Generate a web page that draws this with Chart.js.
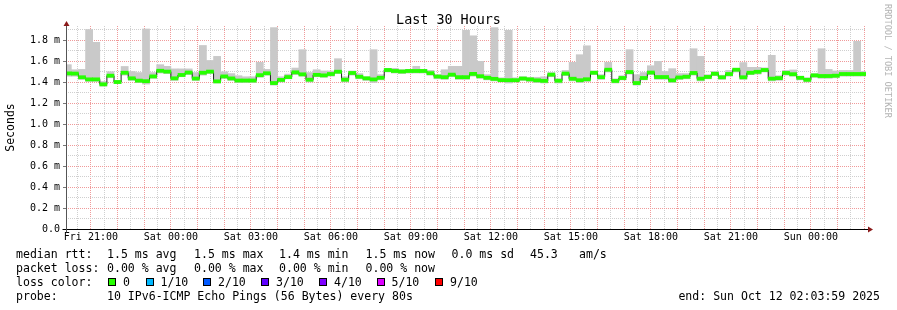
<!DOCTYPE html>
<html>
<head>
<meta charset="utf-8">
<script src="https://cdn.jsdelivr.net/npm/chart.js@4.4.1/dist/chart.umd.min.js"></script>
<style>
  html, body { margin: 0; padding: 0; background: #fff; }
  #wrap { position: relative; width: 897px; height: 310px; overflow: hidden;
          font-family: "DejaVu Sans Mono", monospace; color: #000; }
  #chart { position: absolute; left: 0; top: 0; }
  .title { position: absolute; left: 0; top: 11px; width: 897px; text-align: center;
           font-size: 13.4px; line-height: 17px; }
  .wm { position: absolute; left: 883px; top: 4px; writing-mode: vertical-rl;
        font-size: 8.6px; line-height: 10px; color: #b4b4b4; white-space: pre; }
  .t { position: absolute; white-space: pre; font-size: 11.55px; line-height: 14px; }
  .box { position: absolute; width: 6px; height: 6px; border: 1px solid #000; }
</style>
</head>
<body>
<div id="wrap">
  <canvas id="chart" width="897" height="310"></canvas>
  <div class="title">Last 30 Hours</div>
  <div class="wm">RRDTOOL / TOBI OETIKER</div>

  <div class="t" style="left:16px;top:247px">median rtt:</div>
  <div class="t" style="left:107px;top:247px">1.5 ms avg</div>
  <div class="t" style="left:194px;top:247px">1.5 ms max</div>
  <div class="t" style="left:279px;top:247px">1.4 ms min</div>
  <div class="t" style="left:365.5px;top:247px">1.5 ms now</div>
  <div class="t" style="left:451.5px;top:247px">0.0 ms sd</div>
  <div class="t" style="left:530px;top:247px">45.3</div>
  <div class="t" style="left:579px;top:247px">am/s</div>

  <div class="t" style="left:16px;top:261px">packet loss:</div>
  <div class="t" style="left:107px;top:261px">0.00 % avg</div>
  <div class="t" style="left:194px;top:261px">0.00 % max</div>
  <div class="t" style="left:279px;top:261px">0.00 % min</div>
  <div class="t" style="left:365.5px;top:261px">0.00 % now</div>

  <div class="t" style="left:16px;top:275px">loss color:</div>
  <div id="lossKey"></div>

  <div class="t" style="left:16px;top:289px">probe:</div>
  <div class="t" style="left:107px;top:289px">10 IPv6-ICMP Echo Pings (56 Bytes) every 80s</div>
  <div class="t" style="right:17px;top:289px">end: Sun Oct 12 02:03:59 2025</div>
</div>

<script>
// DATA: one value per 16-minute step, starting Fri 20:00 (ms)
const median = [
  1.482, 1.48, 1.445, 1.425, 1.425, 1.378, 1.46, 1.40, 1.488, 1.435,
  1.413, 1.408, 1.453, 1.507, 1.499, 1.435, 1.467, 1.49, 1.433, 1.488,
  1.499, 1.406, 1.453, 1.434, 1.414, 1.414, 1.414, 1.465, 1.483, 1.39,
  1.42, 1.447, 1.492, 1.473, 1.422, 1.468, 1.463, 1.476, 1.498, 1.422,
  1.486, 1.45, 1.435, 1.425, 1.44, 1.514, 1.505, 1.5, 1.505, 1.505,
  1.505, 1.484, 1.452, 1.446, 1.47, 1.446, 1.446, 1.477, 1.455, 1.44,
  1.43, 1.418, 1.417, 1.417, 1.433, 1.425, 1.416, 1.411, 1.47, 1.412,
  1.48, 1.431, 1.417, 1.426, 1.488, 1.446, 1.517, 1.41, 1.438, 1.495,
  1.39, 1.438, 1.49, 1.447, 1.447, 1.416, 1.443, 1.45, 1.486, 1.432,
  1.448, 1.478, 1.445, 1.476, 1.517, 1.445, 1.488, 1.497, 1.514, 1.432,
  1.437, 1.486, 1.474, 1.44, 1.421, 1.463, 1.457, 1.457, 1.46, 1.476,
  1.476, 1.476, 1.476
];
const smokeHigh = [
  1.565, 1.517, 1.52, 1.90, 1.778, 1.405, 1.498, 1.415, 1.548, 1.50,
  1.49, 1.905, 1.49, 1.565, 1.549, 1.525, 1.525, 1.525, 1.49, 1.748,
  1.605, 1.644, 1.497, 1.48, 1.46, 1.45, 1.45, 1.587, 1.52, 1.918,
  1.45, 1.475, 1.533, 1.708, 1.49, 1.517, 1.505, 1.505, 1.622, 1.45,
  1.505, 1.48, 1.45, 1.708, 1.47, 1.53, 1.53, 1.517, 1.52, 1.549,
  1.52, 1.511, 1.47, 1.517, 1.549, 1.549, 1.892, 1.84, 1.597, 1.47,
  1.918, 1.44, 1.892, 1.44, 1.45, 1.445, 1.445, 1.45, 1.49, 1.43,
  1.51, 1.587, 1.66, 1.745, 1.505, 1.47, 1.587, 1.43, 1.46, 1.708,
  1.47, 1.49, 1.555, 1.597, 1.50, 1.527, 1.48, 1.48, 1.717, 1.644,
  1.47, 1.50, 1.465, 1.51, 1.53, 1.585, 1.54, 1.54, 1.535, 1.654,
  1.46, 1.51, 1.515, 1.455, 1.44, 1.48, 1.717, 1.52, 1.505, 1.51,
  1.51, 1.787, 1.50
];
const smokeLow = [
  1.455, 1.455, 1.425, 1.405, 1.405, 1.36, 1.44, 1.385, 1.465, 1.415,
  1.395, 1.38, 1.435, 1.485, 1.48, 1.415, 1.45, 1.47, 1.415, 1.465,
  1.48, 1.39, 1.435, 1.415, 1.395, 1.395, 1.395, 1.445, 1.465, 1.37,
  1.40, 1.43, 1.47, 1.455, 1.40, 1.45, 1.445, 1.455, 1.48, 1.40,
  1.465, 1.43, 1.415, 1.395, 1.42, 1.495, 1.485, 1.48, 1.485, 1.485,
  1.485, 1.465, 1.43, 1.425, 1.45, 1.425, 1.425, 1.455, 1.435, 1.42,
  1.41, 1.40, 1.39, 1.40, 1.415, 1.405, 1.395, 1.39, 1.45, 1.39,
  1.46, 1.41, 1.395, 1.405, 1.47, 1.425, 1.495, 1.39, 1.42, 1.475,
  1.37, 1.42, 1.47, 1.425, 1.425, 1.395, 1.425, 1.43, 1.465, 1.41,
  1.43, 1.46, 1.425, 1.455, 1.495, 1.425, 1.47, 1.475, 1.495, 1.41,
  1.415, 1.465, 1.455, 1.42, 1.40, 1.445, 1.435, 1.435, 1.44, 1.455,
  1.455, 1.455, 1.455
];

// x axis: hours counted from Fri 00:00
const xTickHours = [21, 24, 27, 30, 33, 36, 39, 42, 45, 48];
const xTickLabels = ['Fri 21:00', 'Sat 00:00', 'Sat 03:00', 'Sat 06:00', 'Sat 09:00',
                     'Sat 12:00', 'Sat 15:00', 'Sat 18:00', 'Sat 21:00', 'Sun 00:00'];
const yTickValues = [0, 0.2, 0.4, 0.6, 0.8, 1.0, 1.2, 1.4, 1.6, 1.8];
const yTickLabels = ['0.0', '0.2 m', '0.4 m', '0.6 m', '0.8 m', '1.0 m', '1.2 m', '1.4 m', '1.6 m', '1.8 m'];

const lossLabels = ['0', '1/10', '2/10', '3/10', '4/10', '5/10', '9/10'];
const lossColors = ['#26ff00', '#00b8ff', '#0059ff', '#5e00ff', '#7e00ff', '#dd00ff', '#ff0000'];

const startHour = 20;         // first step begins Fri 20:00
const stepHours = 16 / 60;
const endHour = 50 + 4 / 60;  // Sun 02:04
const BAND = 0.015;           // half height of the loss-colour band
const RED = '#f09a9a';
const GREY = '#cfcfcf';
const FONT = 'DejaVu Sans Mono';

// loss colour key
const boxLeft = [108, 145.5, 203, 261, 319, 376.5, 435];
const textLeft = [123, 160.5, 218, 276, 334, 391.5, 450];
const key = document.getElementById('lossKey');
lossLabels.forEach((lbl, i) => {
  const b = document.createElement('div');
  b.className = 'box';
  b.style.left = boxLeft[i] + 'px';
  b.style.top = '278px';
  b.style.background = lossColors[i];
  key.appendChild(b);
  const t = document.createElement('div');
  t.className = 't';
  t.style.left = textLeft[i] + 'px';
  t.style.top = '275px';
  t.textContent = lbl;
  key.appendChild(t);
});

const stepTimes = median.map((_, i) => startHour + stepHours * (i + 0.5));

// axis lines and arrows drawn over the data
const axisLines = {
  id: 'axisLines',
  afterDatasetsDraw(chart) {
    const { ctx, chartArea: a } = chart;
    const yb = Math.round(a.bottom) + 0.5;
    const xl = Math.round(a.left) + 0.5;
    ctx.save();
    ctx.lineWidth = 1;
    ctx.strokeStyle = '#000';
    ctx.beginPath();
    ctx.moveTo(xl - 4, yb);
    ctx.lineTo(a.right + 3, yb);
    ctx.stroke();
    ctx.strokeStyle = '#555';
    ctx.beginPath();
    ctx.moveTo(xl, yb + 3);
    ctx.lineTo(xl, a.top - 1);
    ctx.stroke();
    ctx.fillStyle = '#8b1a1a';
    ctx.beginPath();
    ctx.moveTo(xl, a.top - 5);
    ctx.lineTo(xl - 3, a.top);
    ctx.lineTo(xl + 3, a.top);
    ctx.closePath();
    ctx.fill();
    ctx.beginPath();
    ctx.moveTo(a.right + 7, yb);
    ctx.lineTo(a.right + 2, yb - 3);
    ctx.lineTo(a.right + 2, yb + 3);
    ctx.closePath();
    ctx.fill();
    ctx.restore();
  }
};

new Chart(document.getElementById('chart'), {
  type: 'bar',
  data: {
    datasets: [
      {
        type: 'bar',
        label: 'smoke',
        data: stepTimes.map((x, i) => ({ x, y: [smokeLow[i], smokeHigh[i]] })),
        backgroundColor: '#c9c9c9',
        borderWidth: 0,
        barPercentage: 1,
        categoryPercentage: 1,
        grouped: false,
        order: 3
      },
      {
        type: 'line',
        label: 'median',
        data: stepTimes.map((x, i) => ({ x, y: median[i] })),
        stepped: 'middle',
        borderColor: '#202020',
        borderWidth: 1,
        pointRadius: 0,
        order: 2
      },
      {
        type: 'bar',
        label: '0',
        data: stepTimes.map((x, i) => ({ x, y: [median[i] - BAND, median[i] + BAND] })),
        backgroundColor: lossColors[0],
        borderWidth: 0,
        barPercentage: 1,
        categoryPercentage: 1,
        grouped: false,
        order: 1
      }
    ]
  },
  options: {
    responsive: false,
    animation: false,
    devicePixelRatio: 1,
    layout: { padding: { top: 26, right: 31, bottom: 0, left: 0 } },
    plugins: { legend: { display: false }, tooltip: { enabled: false } },
    scales: {
      x: {
        type: 'linear',
        offset: false,
        min: endHour - 30,
        max: endHour,
        afterBuildTicks: s => {
          const t = [];
          for (let h = 20.5; h <= 50; h += 0.5) t.push({ value: h });
          s.ticks = t;
        },
        afterFit: s => { s.height = 81; },
        ticks: {
          autoSkip: false,
          maxRotation: 0,
          minRotation: 0,
          padding: 2,
          color: '#000',
          font: { family: FONT, size: 10 },
          callback: v => {
            const i = xTickHours.indexOf(v);
            return i >= 0 ? xTickLabels[i] : '';
          }
        },
        grid: {
          offset: false,
          drawTicks: false,
          color: c => (c.tick && Number.isInteger(c.tick.value)) ? RED : GREY
        },
        border: { display: false, dash: [1, 1] }
      },
      y: {
        min: 0,
        max: 203 / 105,
        afterBuildTicks: s => {
          const t = [];
          for (let k = 0; k <= 19; k++) t.push({ value: k / 10 });
          s.ticks = t;
        },
        afterFit: s => { s.width = 66; },
        ticks: {
          autoSkip: false,
          padding: 3,
          color: '#000',
          font: { family: FONT, size: 10 },
          callback: v => {
            const i = yTickValues.findIndex(y => Math.abs(y - v) < 1e-6);
            return i >= 0 ? yTickLabels[i] : '';
          }
        },
        grid: {
          tickLength: 3,
          color: c => (c.tick && Math.round(c.tick.value * 10) % 2 === 0) ? RED : GREY,
          tickColor: c => (c.tick && Math.round(c.tick.value * 10) % 2 === 0) ? '#777' : 'rgba(0,0,0,0)'
        },
        border: { display: false, dash: [1, 1] },
        title: {
          display: true,
          text: 'Seconds',
          color: '#000',
          font: { family: FONT, size: 11.5 },
          padding: { top: 4, bottom: 0 }
        }
      }
    }
  },
  plugins: [axisLines]
});
</script>
</body>
</html>
